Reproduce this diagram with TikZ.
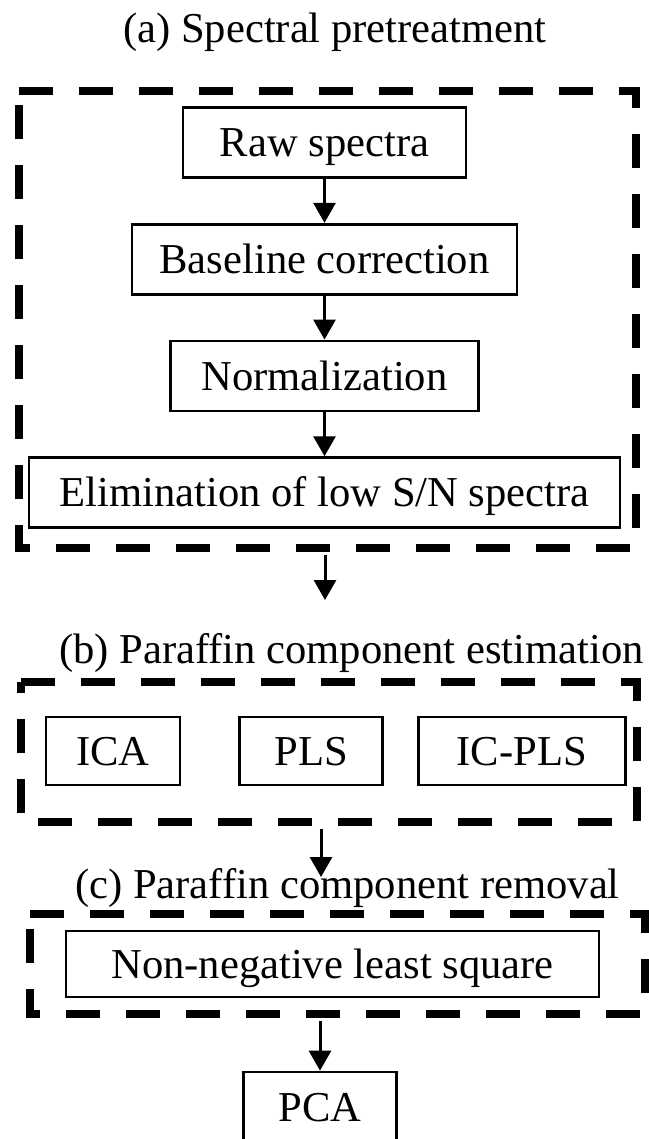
\documentclass[tikz,border=0pt]{standalone}
\usepackage{fontspec}
\setmainfont{Liberation Serif}[Ligatures=NoCommon]
\usetikzlibrary{arrows.meta, positioning}

\begin{document}
\begin{tikzpicture}[
  x=0.5pt, y=-0.5pt,
  font=\fontsize{21.3pt}{25pt}\selectfont,
  stepbox/.style = {rectangle, draw=black, line width=1.35pt, inner sep=0pt,
                    text height=19.2pt, text depth=5.1pt,
                    minimum height=35pt, align=center},
  heading/.style = {inner sep=0pt, anchor=base},
  frame/.style   = {line width=4pt, dash pattern=on 17pt off 13pt},
  flow/.style    = {-{Triangle[length=10pt, width=11pt]}, line width=1.5pt}
]
\useasboundingbox (0,0) rectangle (648,1139);

% ---------- (a) spectral pretreatment ----------
\node[heading] (titleA) at (335,43) {(a) Spectral pretreatment};

\node[stepbox, minimum width=141.5pt] (raw) at (324.5,142.5) {Raw spectra};
\node[stepbox, minimum width=192.5pt, below=22pt of raw]      (baseline) {Baseline correction};
\node[stepbox, minimum width=154pt,   below=22pt of baseline] (norm)     {Normalization};
\node[stepbox, minimum width=295.5pt, below=22pt of norm]     (elim)     {Elimination of low S/N spectra};

\foreach \s/\t in {raw/baseline, baseline/norm, norm/elim}
  \draw[flow] (\s) -- (\t);

\coordinate (aNW) at (18.5,91);
\coordinate (aSE) at (635.5,548);
\draw[frame] (aNW) -- (aNW -| aSE) -- (aSE) -- (aSE -| aNW) -- cycle;

% ---------- (b) paraffin component estimation ----------
\coordinate (aOut) at (325,548);
\coordinate (bIn)  at (325,600);
\draw[flow, shorten <=3.5pt] (aOut) -- (bIn);

\node[heading] (titleB) at (351.5,663) {(b) Paraffin component estimation};

\node[stepbox, minimum width=67pt, minimum height=34pt] (ica) at (113,751) {ICA};
\node[stepbox, minimum width=71.5pt, minimum height=34pt, right=28.5pt of ica] (pls) {PLS};
\node[stepbox, minimum width=103.5pt, minimum height=34pt, right=16.5pt of pls] (icpls) {IC-PLS};

\coordinate (bNW) at (21,682);
\coordinate (bSE) at (636.5,822);
\draw[frame] (bNW) -- (bNW -| bSE) -- (bSE) -- (bSE -| bNW) -- cycle;

% ---------- (c) paraffin component removal ----------
\node[heading] (titleC) at (347.5,898) {(c) Paraffin component removal};

\coordinate (bOut) at (321,822);
\coordinate (cIn)  at (321,877);
\draw[flow, shorten <=3.5pt] (bOut) -- (cIn);

\node[stepbox, minimum width=266.5pt, minimum height=33pt] (nnls) at (332.5,964) {Non-negative least square};

\coordinate (cNW) at (30,914);
\coordinate (cSE) at (645,1013.5);
\draw[frame] (cNW) -- (cNW -| cSE) -- (cSE) -- (cSE -| cNW) -- cycle;

% ---------- PCA ----------
\node[stepbox, minimum width=76.5pt] (pca) at (320,1107) {PCA};

\coordinate (cOut) at (320,1013.5);
\draw[flow, shorten <=3.5pt] (cOut) -- (pca.north);

\end{tikzpicture}
\end{document}
